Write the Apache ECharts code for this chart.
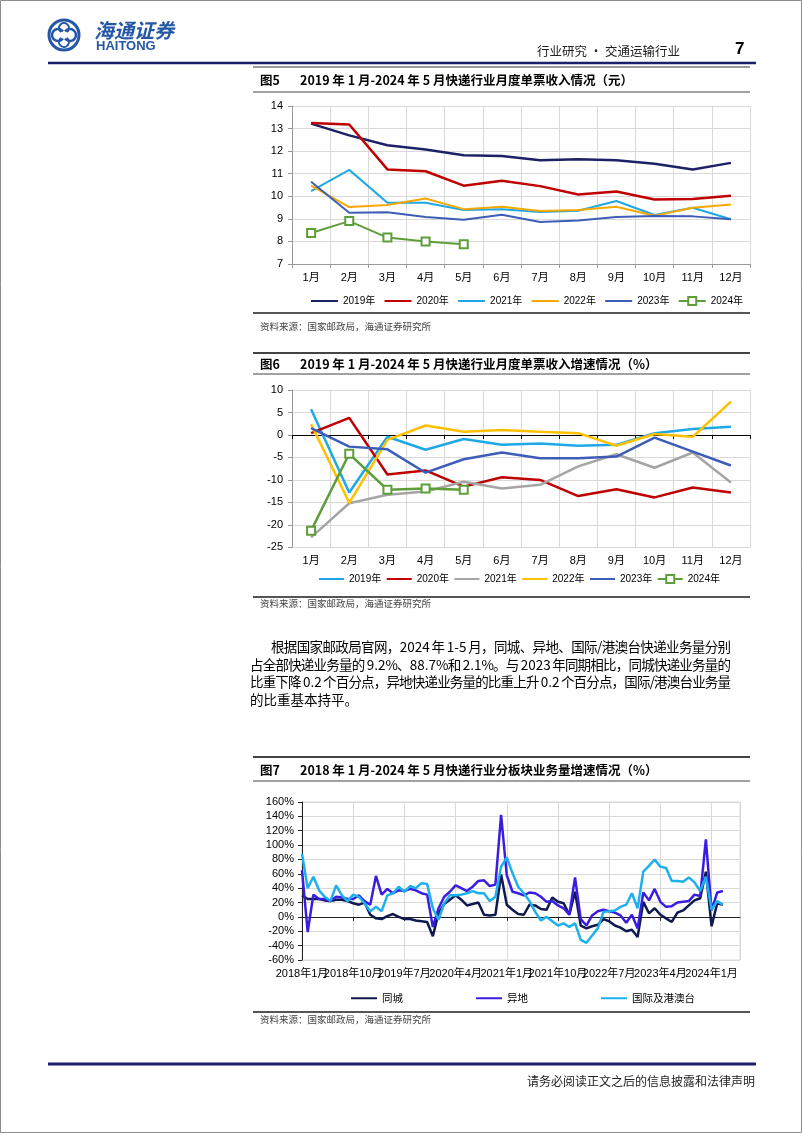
<!DOCTYPE html>
<html><head><meta charset="utf-8">
<script src="https://cdn.jsdelivr.net/npm/echarts@6/dist/echarts.min.js"></script>
<style>html,body{margin:0;padding:0;background:#fff}#c{width:802px;height:1133px}</style>
</head><body><div id="c"></div>
<script>
// ---------- DATA ----------
const months12 = ['1月','2月','3月','4月','5月','6月','7月','8月','9月','10月','11月','12月'];
const yearNames = ['2019年','2020年','2021年','2022年','2023年','2024年'];

// Fig5: unit income (yuan)
const inc2019 = [13.22,12.7,12.26,12.07,11.82,11.79,11.6,11.64,11.6,11.44,11.19,11.48];
const inc2020 = [13.25,13.18,11.19,11.11,10.47,10.69,10.45,10.08,10.21,9.86,9.88,10.02];
const inc2021 = [10.23,11.17,9.71,9.71,9.39,9.43,9.3,9.36,9.79,9.17,9.49,8.98];
const inc2022 = [10.47,9.52,9.61,9.9,9.43,9.54,9.35,9.39,9.54,9.14,9.49,9.64];
const inc2023 = [10.64,9.27,9.29,9.08,8.96,9.18,8.86,8.93,9.08,9.13,9.11,8.98];
const inc2024 = [8.37,8.9,8.17,8.0,7.87];

// Fig6: unit income growth (%)
const gr2019 = [5.7,-12.8,-0.4,-3.3,-0.9,-2.2,-1.9,-2.4,-2.2,0.4,1.3,1.8];
const gr2020 = [0.4,3.8,-8.8,-7.9,-11.5,-9.4,-10.0,-13.6,-12.1,-13.9,-11.7,-12.8];
const gr2021 = [-22.8,-15.2,-13.3,-12.6,-10.4,-11.9,-11.1,-7.0,-4.3,-7.3,-3.9,-10.6];
const gr2022 = [2.4,-15.1,-1.1,2.1,0.7,1.1,0.7,0.4,-2.4,0.2,-0.4,7.4];
const gr2023 = [1.5,-2.6,-3.2,-8.4,-5.4,-3.9,-5.2,-5.2,-4.8,-0.6,-3.7,-6.8];
const gr2024 = [-21.3,-4.2,-12.2,-11.9,-12.2];

// Fig7: volume growth by segment (%), monthly
const sameCity = [30,25,25,25,23,22,24,24,22,19,17,20,3,-2,-3,1,4,0,-3,-3,
  -5,-6,-7,-27,5,18,24,30,24,16,18,20,3,2,3,59,17,10,4,3,
  17,16,11,10,27,21,19,3,35,-12,-16,-13,-11,-3,-6,-12,-15,-20,-18,-28,
  21,5,12,3,-2,-7,6,9,16,23,26,63,-13,19,17];
const interCity = [65,-21,31,25,25,22,28,27,25,25,30,22,17,57,31,39,33,37,36,39,
  37,33,31,-14,12,28,35,44,40,36,42,50,51,43,45,142,58,35,33,30,
  34,33,28,21,22,16,12,3,55,-3,-12,2,8,10,8,6,2,-8,3,-16,
  34,23,39,21,14,15,20,21,22,31,29,108,9,34,36];
const intl = [88,40,56,37,28,22,44,30,22,31,28,19,8,14,8,30,33,42,35,43,
  40,47,46,12,-4,19,30,30,31,33,36,33,33,22,28,70,83,61,42,33,
  22,7,-5,0,-6,-12,-9,-14,-9,-32,-36,-26,-16,7,8,9,14,17,33,12,
  63,71,80,70,68,50,50,49,55,48,36,56,10,22,17];
const segNames = ['同城','异地','国际及港澳台'];

// month categories for Fig7 axis
const monthCats = [];
for (let y = 2018; y <= 2024; y++) for (let m = 1; m <= 12; m++) {
  if (monthCats.length < 78) monthCats.push(y + '年' + m + '月');
}

// ---------- STYLE ----------
const LAT = "'Liberation Sans','Noto Sans CJK SC',sans-serif";
const CJK = "'Noto Sans CJK SC',sans-serif";
const c1 = ['#1B2266','#C00000','#1EA8E6','#F5A800','#3D5DB8','#5E9E3A'];
const c2 = ['#1EA8E6','#C00000','#A5A5A5','#FFC000','#3D5DB8','#5E9E3A'];
const c3 = ['#0E1A4F','#3A1EE0','#1CB0EE'];

const chart = echarts.init(document.getElementById('c'), null, {renderer:'canvas'});

const gridLineColor = '#D9D9D9';
const lbl = {fontSize:11, color:'#000', fontFamily:LAT};

const inc = [inc2019,inc2020,inc2021,inc2022,inc2023,inc2024];
const gr = [gr2019,gr2020,gr2021,gr2022,gr2023,gr2024];
const series = [];
inc.forEach((d,i)=>{
  const last = i===5;
  series.push({name:yearNames[i], type:'line', xAxisIndex:0, yAxisIndex:0, data:d,
    symbol: last?'emptyRect':'none', symbolSize:8, showSymbol:last,
    lineStyle:{width: i<2?2.5:2, color:c1[i]}, itemStyle:{color:c1[i], borderWidth:2},
    emphasis:{disabled:true}, animation:false});
});
gr.forEach((d,i)=>{
  const last = i===5;
  series.push({name:yearNames[i]+'#2', type:'line', xAxisIndex:1, yAxisIndex:1, data:d,
    symbol: last?'emptyRect':'none', symbolSize:8, showSymbol:last,
    lineStyle:{width:2.5, color:c2[i]}, itemStyle:{color:c2[i], borderWidth:2},
    emphasis:{disabled:true}, animation:false});
});
[sameCity, interCity, intl].forEach((d,i)=>{
  series.push({name:segNames[i], type:'line', xAxisIndex:3, yAxisIndex:2, data:d,
    symbol:'none', lineStyle:{width:2.5, color:c3[i]}, itemStyle:{color:c3[i]},
    emphasis:{disabled:true}, animation:false});
});

// ---------- page texts ----------
const g = [];
function line(x1,y1,x2,y2,stroke,w){ g.push({type:'line', shape:{x1,y1,x2,y2}, style:{stroke, lineWidth:w}, silent:true}); }
function text(x,y,t,font,fill,align){ g.push({type:'text', x, y, style:{text:t, font, fill:fill||'#000', align:align||'left', verticalAlign:'middle'}, silent:true}); }

const measCtx = document.createElement('canvas').getContext('2d');
function justify(str, x0, x1, y, font, doJust){
  measCtx.font = font;
  const toks = str.match(/[!-~]+|./gu);
  const ws = toks.map(t=>measCtx.measureText(t).width);
  const tot = ws.reduce((a,b)=>a+b,0);
  const gap = doJust ? (x1-x0-tot)/(toks.length-1) : 0;
  let x = x0;
  toks.forEach((t,i)=>{ if (t !== ' ') text(x, y, t, font, '#000'); x += ws[i] + gap; });
}

// border
g.push({type:'rect', shape:{x:0.5,y:0.5,width:801,height:1132}, style:{fill:'none', stroke:'#8c8c8c', lineWidth:1}, silent:true});
// logo
g.push({type:'circle', shape:{cx:64,cy:35,r:15}, style:{fill:'none', stroke:'#2457A6', lineWidth:3}, silent:true});
g.push({type:'arc', shape:{cx:58,cy:35,r:6,startAngle:Math.PI*0.2,endAngle:Math.PI*1.8}, style:{fill:'none', stroke:'#2457A6', lineWidth:2.5}, silent:true});
g.push({type:'arc', shape:{cx:70,cy:35,r:6,startAngle:Math.PI*1.2,endAngle:Math.PI*0.8}, style:{fill:'none', stroke:'#2457A6', lineWidth:2.5}, silent:true});
g.push({type:'arc', shape:{cx:64,cy:28,r:5,startAngle:Math.PI*0.7,endAngle:Math.PI*2.3}, style:{fill:'none', stroke:'#2457A6', lineWidth:2}, silent:true});
g.push({type:'arc', shape:{cx:64,cy:42,r:5,startAngle:Math.PI*1.7,endAngle:Math.PI*3.3}, style:{fill:'none', stroke:'#2457A6', lineWidth:2}, silent:true});
text(94, 30, '海通证券', "italic bold 20px 'Noto Sans CJK SC'", '#2457A6');
text(96, 46, 'HAITONG', "bold 13px 'Liberation Sans'", '#2457A6');
text(537, 51, '行业研究 · 交通运输行业', "12.5px 'Noto Sans CJK SC'", '#222');
text(735, 49, '7', "bold 17px 'Liberation Sans'", '#000');
line(48,63,756,63,'#1a1f6e',2.5);

// Fig5 frame
line(253,67,750,67,'#9a9a9a',2);
text(260,80,'图5',"bold 12.5px 'Noto Sans CJK SC'",'#000');
text(300,80,'2019 年 1 月-2024 年 5 月快递行业月度单票收入情况（元）',"bold 12.5px 'Noto Sans CJK SC'",'#000');
line(253,92,750,92,'#444',1.2);
line(253,313,750,313,'#555',2);
text(260,326,'资料来源：国家邮政局，海通证券研究所',"9.5px 'Noto Sans CJK SC'",'#444');

// Fig6 frame
line(253,353,750,353,'#444',2);
text(260,364,'图6',"bold 12.5px 'Noto Sans CJK SC'",'#000');
text(300,364,'2019 年 1 月-2024 年 5 月快递行业月度单票收入增速情况（%）',"bold 12.5px 'Noto Sans CJK SC'",'#000');
line(253,374,750,374,'#444',1.2);
line(253,597,750,597,'#555',2);
text(260,603,'资料来源：国家邮政局，海通证券研究所',"9.5px 'Noto Sans CJK SC'",'#444');

// paragraph
const pf = "13.5px 'Noto Sans CJK SC'";
justify('根据国家邮政局官网，2024 年 1-5 月，同城、异地、国际/港澳台快递业务量分别', 271, 731, 647, pf, true);
justify('占全部快递业务量的 9.2%、88.7%和 2.1%。与 2023 年同期相比，同城快递业务量的', 250, 731, 664.5, pf, true);
justify('比重下降 0.2 个百分点，异地快递业务量的比重上升 0.2 个百分点，国际/港澳台业务量', 250, 731, 682, pf, true);
justify('的比重基本持平。', 250, 731, 699.5, pf, false);

// Fig7 frame
line(253,757,750,757,'#444',2);
text(260,770,'图7',"bold 12.5px 'Noto Sans CJK SC'",'#000');
text(300,770,'2018 年 1 月-2024 年 5 月快递行业分板块业务量增速情况（%）',"bold 12.5px 'Noto Sans CJK SC'",'#000');
line(253,781,750,781,'#444',1.2);
line(253,1012,750,1012,'#555',2);
text(260,1019,'资料来源：国家邮政局，海通证券研究所',"9.5px 'Noto Sans CJK SC'",'#444');

// footer
line(48,1064,756,1064,'#1a1f6e',3);
text(755,1081,'请务必阅读正文之后的信息披露和法律声明',"12px 'Noto Sans CJK SC'",'#222','right');

// legend items: hide default circle marker for plain-line series
function legItems(names, markerIdx){
  return names.map((n,i)=> i===markerIdx ? {name:n} : {name:n, itemStyle:{opacity:0}});
}

const option = {
  backgroundColor:'#fff',
  animation:false,
  textStyle:{fontFamily:LAT},
  grid:[
    {left:292, top:106, width:458, height:158},
    {left:292, top:390, width:458, height:157.3},
    {left:302, top:802, width:438, height:158, show:true, borderColor:gridLineColor, borderWidth:1}
  ],
  xAxis:[
    {type:'category', gridIndex:0, data:months12, boundaryGap:true,
      axisLine:{onZero:false, lineStyle:{color:'#999'}}, axisTick:{show:true, length:4, lineStyle:{color:'#999'}},
      axisLabel:Object.assign({margin:8}, lbl), splitLine:{show:true, lineStyle:{color:gridLineColor}}},
    {type:'category', gridIndex:1, data:months12, boundaryGap:true, position:'bottom',
      axisLine:{show:false, onZero:false}, axisTick:{show:false},
      axisLabel:Object.assign({margin:8}, lbl), splitLine:{show:true, lineStyle:{color:gridLineColor}}},
    {type:'category', gridIndex:1, data:months12, boundaryGap:true, position:'top',
      axisLine:{show:true, onZero:true, lineStyle:{color:'#000', width:1}}, axisTick:{show:true, inside:true, length:4, lineStyle:{color:'#000'}},
      axisLabel:{show:false}, splitLine:{show:false}},
    {type:'category', gridIndex:2, data:monthCats, boundaryGap:false, position:'bottom',
      axisLine:{show:false, onZero:false}, axisTick:{show:false},
      axisLabel:{interval:0, margin:8, fontSize:11, color:'#000', fontFamily:LAT, hideOverlap:false,
        formatter:(v,idx)=> idx % 9 === 0 ? v : ''},
      splitLine:{show:true, interval:8, lineStyle:{color:gridLineColor}}},
    {type:'category', gridIndex:2, data:monthCats, boundaryGap:false, position:'top',
      axisLine:{show:true, onZero:true, lineStyle:{color:'#222', width:1}},
      axisTick:{show:true, inside:true, interval:8, length:4, lineStyle:{color:'#222'}},
      axisLabel:{show:false}, splitLine:{show:false}}
  ],
  yAxis:[
    {type:'value', gridIndex:0, min:7, max:14, interval:1,
      axisLine:{show:true, lineStyle:{color:'#999'}}, axisTick:{show:true, length:4, lineStyle:{color:'#999'}},
      axisLabel:Object.assign({margin:9}, lbl), splitLine:{show:true, lineStyle:{color:gridLineColor}}},
    {type:'value', gridIndex:1, min:-25, max:10, interval:5,
      axisLine:{show:true, lineStyle:{color:'#999'}}, axisTick:{show:true, length:4, lineStyle:{color:'#999'}},
      axisLabel:Object.assign({margin:9}, lbl), splitLine:{show:true, lineStyle:{color:gridLineColor}}},
    {type:'value', gridIndex:2, min:-60, max:160, interval:20,
      axisLine:{show:true, lineStyle:{color:'#222'}}, axisTick:{show:true, length:4, lineStyle:{color:'#222'}},
      axisLabel:{margin:8, fontSize:11, color:'#000', fontFamily:LAT, formatter:'{value}%'},
      splitLine:{show:true, lineStyle:{color:gridLineColor}}}
  ],
  legend:[
    {data:legItems(yearNames,5), left:305, top:291, itemWidth:27, itemHeight:10, itemGap:8.3,
      textStyle:{fontSize:10, color:'#000', fontFamily:LAT}, selectedMode:false},
    {data:legItems(yearNames.map(n=>n+'#2'),5), left:313, top:569, itemWidth:25, itemHeight:10, itemGap:4.5,
      formatter:n=>n.replace('#2',''),
      textStyle:{fontSize:10, color:'#000', fontFamily:LAT}, selectedMode:false},
    {data:legItems(segNames,-1), left:345, top:988, itemWidth:26, itemHeight:10, itemGap:72,
      textStyle:{fontSize:10.5, color:'#000', fontFamily:CJK}, selectedMode:false}
  ],
  series:series,
  graphic:{elements:g}
};
chart.setOption(option);
</script>
</body></html>
